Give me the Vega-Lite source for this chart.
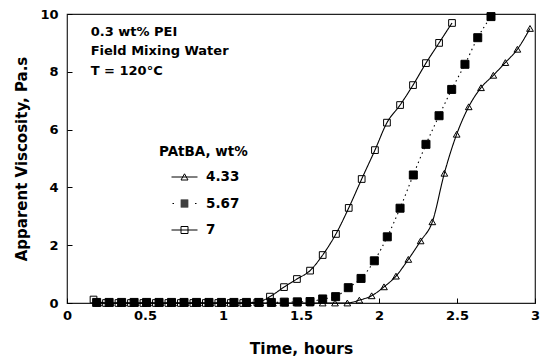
{
  "$schema": "https://vega.github.io/schema/vega-lite/v6.json",
  "width": 468,
  "height": 289,
  "autosize": {"type": "none"},
  "padding": {"left": 67, "top": 14, "right": 11, "bottom": 57},
  "background": "white",
  "config": {
    "font": "DejaVu Sans",
    "view": {"stroke": "#222", "strokeWidth": 1.2},
    "axis": {"domain": false, "grid": false, "tickColor": "black", "tickWidth": 1, "labelColor": "black", "titleColor": "black", "labelFont": "DejaVu Sans", "titleFont": "DejaVu Sans", "labelFontWeight": "bold", "titleFontWeight": "bold", "labelFontSize": 13, "titleFontSize": 15, "labelFlush": false, "labelOverlap": false, "labelBound": false}
  },
  "datasets": {
    "visc": [
      {"series": "7", "t": 0.17, "v": 0.12},
      {"series": "7", "t": 0.25, "v": 0},
      {"series": "7", "t": 0.33, "v": 0},
      {"series": "7", "t": 0.41, "v": 0},
      {"series": "7", "t": 0.49, "v": 0},
      {"series": "7", "t": 0.57, "v": 0},
      {"series": "7", "t": 0.65, "v": 0},
      {"series": "7", "t": 0.73, "v": 0},
      {"series": "7", "t": 0.81, "v": 0},
      {"series": "7", "t": 0.89, "v": 0},
      {"series": "7", "t": 0.97, "v": 0},
      {"series": "7", "t": 1.05, "v": 0},
      {"series": "7", "t": 1.13, "v": 0},
      {"series": "7", "t": 1.22, "v": 0.02},
      {"series": "7", "t": 1.301, "v": 0.22},
      {"series": "7", "t": 1.391, "v": 0.55},
      {"series": "7", "t": 1.474, "v": 0.83},
      {"series": "7", "t": 1.558, "v": 1.12},
      {"series": "7", "t": 1.639, "v": 1.66},
      {"series": "7", "t": 1.724, "v": 2.39},
      {"series": "7", "t": 1.806, "v": 3.29},
      {"series": "7", "t": 1.889, "v": 4.29},
      {"series": "7", "t": 1.974, "v": 5.29},
      {"series": "7", "t": 2.051, "v": 6.24},
      {"series": "7", "t": 2.135, "v": 6.85},
      {"series": "7", "t": 2.218, "v": 7.54},
      {"series": "7", "t": 2.301, "v": 8.3},
      {"series": "7", "t": 2.385, "v": 9.0},
      {"series": "7", "t": 2.468, "v": 9.69},
      {"series": "5.67", "t": 0.19, "v": 0.02},
      {"series": "5.67", "t": 0.27, "v": 0.02},
      {"series": "5.67", "t": 0.35, "v": 0.02},
      {"series": "5.67", "t": 0.43, "v": 0.02},
      {"series": "5.67", "t": 0.51, "v": 0.02},
      {"series": "5.67", "t": 0.59, "v": 0.02},
      {"series": "5.67", "t": 0.67, "v": 0.02},
      {"series": "5.67", "t": 0.75, "v": 0.02},
      {"series": "5.67", "t": 0.83, "v": 0.02},
      {"series": "5.67", "t": 0.91, "v": 0.02},
      {"series": "5.67", "t": 0.99, "v": 0.02},
      {"series": "5.67", "t": 1.07, "v": 0.02},
      {"series": "5.67", "t": 1.15, "v": 0.02},
      {"series": "5.67", "t": 1.23, "v": 0.02},
      {"series": "5.67", "t": 1.31, "v": 0.02},
      {"series": "5.67", "t": 1.393, "v": 0.03},
      {"series": "5.67", "t": 1.476, "v": 0.04},
      {"series": "5.67", "t": 1.558, "v": 0.05},
      {"series": "5.67", "t": 1.639, "v": 0.14},
      {"series": "5.67", "t": 1.722, "v": 0.22},
      {"series": "5.67", "t": 1.803, "v": 0.53},
      {"series": "5.67", "t": 1.885, "v": 0.85},
      {"series": "5.67", "t": 1.97, "v": 1.46},
      {"series": "5.67", "t": 2.053, "v": 2.29},
      {"series": "5.67", "t": 2.135, "v": 3.28},
      {"series": "5.67", "t": 2.22, "v": 4.43},
      {"series": "5.67", "t": 2.301, "v": 5.49},
      {"series": "5.67", "t": 2.385, "v": 6.48},
      {"series": "5.67", "t": 2.466, "v": 7.39},
      {"series": "5.67", "t": 2.551, "v": 8.26},
      {"series": "5.67", "t": 2.633, "v": 9.18},
      {"series": "5.67", "t": 2.718, "v": 9.91},
      {"series": "4.33", "t": 0.2, "v": 0},
      {"series": "4.33", "t": 0.28, "v": 0},
      {"series": "4.33", "t": 0.36, "v": 0},
      {"series": "4.33", "t": 0.44, "v": 0},
      {"series": "4.33", "t": 0.52, "v": 0},
      {"series": "4.33", "t": 0.6, "v": 0},
      {"series": "4.33", "t": 0.68, "v": 0},
      {"series": "4.33", "t": 0.76, "v": 0},
      {"series": "4.33", "t": 0.84, "v": 0},
      {"series": "4.33", "t": 0.92, "v": 0},
      {"series": "4.33", "t": 1.0, "v": 0},
      {"series": "4.33", "t": 1.08, "v": 0},
      {"series": "4.33", "t": 1.16, "v": 0},
      {"series": "4.33", "t": 1.24, "v": 0},
      {"series": "4.33", "t": 1.32, "v": 0},
      {"series": "4.33", "t": 1.4, "v": 0},
      {"series": "4.33", "t": 1.48, "v": 0},
      {"series": "4.33", "t": 1.559, "v": 0},
      {"series": "4.33", "t": 1.639, "v": 0},
      {"series": "4.33", "t": 1.718, "v": 0},
      {"series": "4.33", "t": 1.797, "v": 0},
      {"series": "4.33", "t": 1.874, "v": 0.1},
      {"series": "4.33", "t": 1.953, "v": 0.25},
      {"series": "4.33", "t": 2.032, "v": 0.56},
      {"series": "4.33", "t": 2.109, "v": 0.93},
      {"series": "4.33", "t": 2.188, "v": 1.51},
      {"series": "4.33", "t": 2.267, "v": 2.15},
      {"series": "4.33", "t": 2.342, "v": 2.81},
      {"series": "4.33", "t": 2.419, "v": 4.49},
      {"series": "4.33", "t": 2.498, "v": 5.84},
      {"series": "4.33", "t": 2.575, "v": 6.79},
      {"series": "4.33", "t": 2.654, "v": 7.45},
      {"series": "4.33", "t": 2.733, "v": 7.88},
      {"series": "4.33", "t": 2.81, "v": 8.32},
      {"series": "4.33", "t": 2.887, "v": 8.78},
      {"series": "4.33", "t": 2.968, "v": 9.5}
    ],
    "notes": [
      {"label": "0.3 wt% PEI", "t": 0.152, "v": 9.24},
      {"label": "Field Mixing Water", "t": 0.152, "v": 8.57},
      {"label": "T = 120°C", "t": 0.152, "v": 7.88}
    ]
  },
  "layer": [
    {
      "data": {"name": "visc"},
      "mark": {"type": "line", "interpolate": "monotone", "color": "black", "strokeWidth": 1.1},
      "encoding": {
        "x": {"field": "t", "type": "quantitative", "scale": {"domain": [0, 3], "nice": false, "zero": false},
          "axis": {"values": [0, 0.5, 1, 1.5, 2, 2.5, 3], "format": "~r", "title": "Time, hours", "tickSize": -5, "labelPadding": 11, "titlePadding": 19, "titleFontSize": 15.5}},
        "y": {"field": "v", "type": "quantitative", "scale": {"domain": [0, 10], "nice": false},
          "axis": {"values": [0, 2, 4, 6, 8, 10], "format": "~r", "title": "Apparent Viscosity, Pa.s", "tickSize": -5, "labelPadding": 14, "titlePadding": 10}},
        "detail": {"field": "series", "type": "nominal"},
        "strokeDash": {"condition": {"test": "datum.series === '5.67'", "value": [1.5, 3.5]}, "value": [1, 0]}
      }
    },
    {
      "data": {"name": "visc"},
      "mark": {"type": "point", "opacity": 1, "strokeWidth": 1, "stroke": "black"},
      "encoding": {
        "x": {"field": "t", "type": "quantitative"},
        "y": {"field": "v", "type": "quantitative"},
        "fill": {"condition": {"test": "datum.series === '5.67'", "value": "black"}, "value": "transparent"},
        "size": {"condition": {"test": "datum.series === '5.67'", "value": 64}, "value": 45},
        "shape": {"condition": {"test": "datum.series === '4.33'", "value": "triangle-up"}, "value": "square"}
      }
    },
    {
      "data": {"name": "visc"},
      "transform": [{"filter": "datum.t < 0"}],
      "mark": {"type": "point", "filled": false, "color": "black", "stroke": "black", "strokeWidth": 1, "opacity": 1},
      "encoding": {
        "shape": {"field": "series", "type": "nominal",
          "scale": {"domain": ["4.33", "5.67", "7"], "range": [
            "M0.2,0H2.8M1.15,0.3L1.5,-0.32M1.5,-0.32L1.85,0.3M1.85,0.3H1.15",
            "M0.3,0H0.45M2.55,0H2.7M1.12,-0.35H1.88M1.12,-0.25H1.88M1.12,-0.15H1.88M1.12,-0.05H1.88M1.12,0.05H1.88M1.12,0.15H1.88M1.12,0.25H1.88M1.12,0.35H1.88",
            "M0.2,0H2.8M1.15,-0.35H1.85M1.85,-0.35V0.35M1.85,0.35H1.15M1.15,0.35V-0.35"
          ]},
          "legend": {
            "title": "PAtBA, wt%", "orient": "none", "legendX": 92, "legendY": 131,
            "symbolSize": 400, "labelOffset": 26, "rowPadding": 9.5, "padding": 0,
            "titleFont": "DejaVu Sans", "titleFontSize": 13.5, "titleFontWeight": "bold", "titleColor": "black", "titlePadding": 8,
            "labelFont": "DejaVu Sans", "labelFontSize": 13.5, "labelFontWeight": "bold", "labelColor": "black",
            "symbolStrokeWidth": 1, "symbolStrokeColor": "black", "symbolOpacity": 1
          }
        }
      }
    },
    {
      "data": {"name": "notes"},
      "mark": {"type": "text", "align": "left", "baseline": "alphabetic", "fontSize": 13, "fontWeight": "bold", "color": "black", "font": "DejaVu Sans"},
      "encoding": {
        "x": {"field": "t", "type": "quantitative"},
        "y": {"field": "v", "type": "quantitative"},
        "text": {"field": "label", "type": "nominal"}
      }
    }
  ]
}
